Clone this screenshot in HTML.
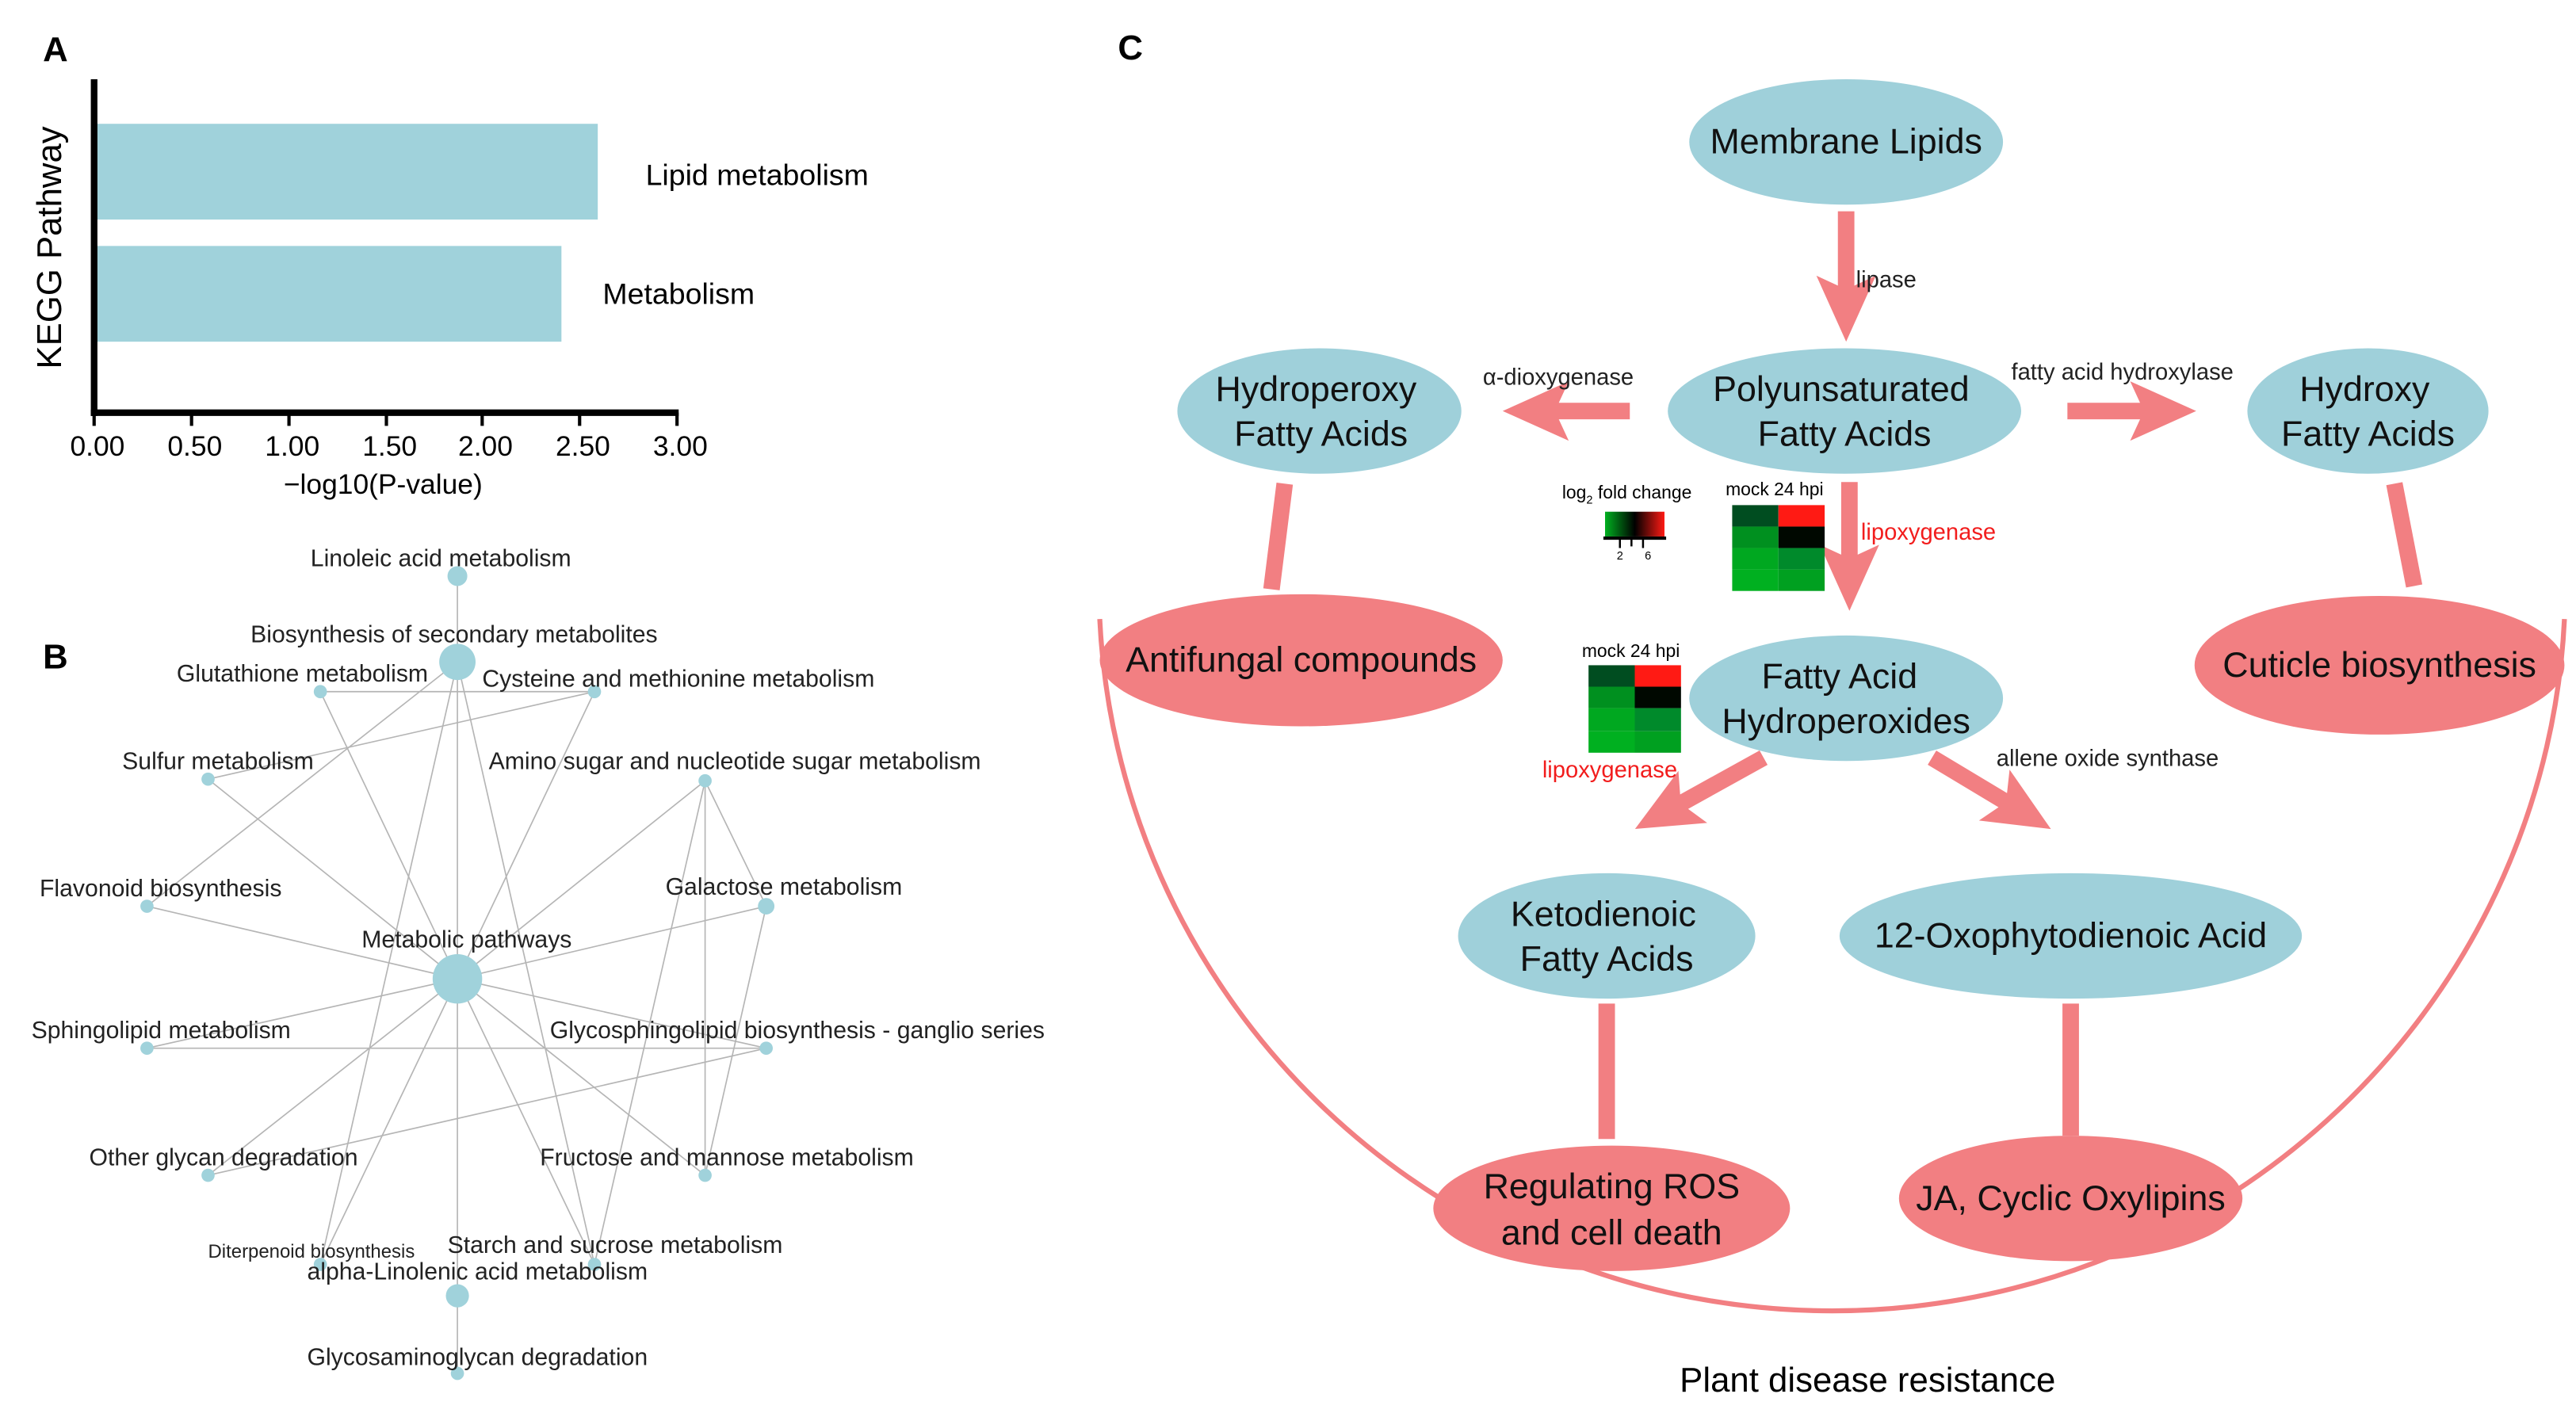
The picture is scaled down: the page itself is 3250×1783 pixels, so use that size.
<!DOCTYPE html>
<html><head><meta charset="utf-8"><style>html,body{margin:0;padding:0;background:#fff}svg{display:block}text{font-family:"Liberation Sans",Arial,sans-serif}</style></head>
<body>
<svg width="3250" height="1783" viewBox="0 0 1560 856" preserveAspectRatio="none" xmlns="http://www.w3.org/2000/svg">
<rect width="1560" height="856" fill="#fff"/>
<!-- Panel A -->
<text x="26" y="37" font-size="21" font-weight="bold">A</text>
<rect x="58" y="75" width="304" height="58" fill="#a0d2db"/>
<rect x="58" y="149" width="282" height="58" fill="#a0d2db"/>
<line x1="57" y1="48" x2="57" y2="252" stroke="#000" stroke-width="4"/>
<line x1="55" y1="250" x2="411" y2="250" stroke="#000" stroke-width="4"/>
<g stroke="#000" stroke-width="2">
<line x1="57" y1="250" x2="57" y2="258"/><line x1="116" y1="250" x2="116" y2="258"/><line x1="175" y1="250" x2="175" y2="258"/><line x1="234" y1="250" x2="234" y2="258"/><line x1="292" y1="250" x2="292" y2="258"/><line x1="351" y1="250" x2="351" y2="258"/><line x1="410" y1="250" x2="410" y2="258"/></g>
<g font-size="17" text-anchor="middle">
<text x="59" y="276">0.00</text><text x="118" y="276">0.50</text><text x="177" y="276">1.00</text><text x="236" y="276">1.50</text><text x="294" y="276">2.00</text><text x="353" y="276">2.50</text><text x="412" y="276">3.00</text>
<text x="232" y="299">−log10(P-value)</text></g>
<text x="391" y="112" font-size="18">Lipid metabolism</text>
<text x="365" y="184" font-size="18">Metabolism</text>
<text transform="translate(37,150) rotate(-90)" font-size="21" text-anchor="middle">KEGG Pathway</text>

<!-- Panel B -->
<text x="26" y="405" font-size="21" font-weight="bold">B</text>
<g stroke="#b5b5b5" stroke-width="0.8" fill="none">
<line x1="277" y1="349" x2="277" y2="832"/>
<line x1="194" y1="419" x2="360" y2="419"/>
<line x1="277" y1="401" x2="89" y2="549"/>
<line x1="277" y1="401" x2="194" y2="766"/>
<line x1="277" y1="401" x2="360" y2="766"/>
<line x1="360" y1="419" x2="126" y2="472"/>
<line x1="360" y1="419" x2="277" y2="593"/>
<line x1="194" y1="419" x2="277" y2="593"/>
<line x1="126" y1="472" x2="277" y2="593"/>
<line x1="427" y1="473" x2="277" y2="593"/>
<line x1="427" y1="473" x2="464" y2="549"/>
<line x1="427" y1="473" x2="427" y2="712"/>
<line x1="427" y1="473" x2="360" y2="766"/>
<line x1="89" y1="549" x2="277" y2="593"/>
<line x1="464" y1="549" x2="277" y2="593"/>
<line x1="89" y1="635" x2="277" y2="593"/>
<line x1="464" y1="635" x2="277" y2="593"/>
<line x1="126" y1="712" x2="277" y2="593"/>
<line x1="427" y1="712" x2="277" y2="593"/>
<line x1="194" y1="766" x2="277" y2="593"/>
<line x1="360" y1="766" x2="277" y2="593"/>
<line x1="89" y1="635" x2="464" y2="635"/>
<line x1="464" y1="635" x2="126" y2="712"/>
<line x1="464" y1="549" x2="427" y2="712"/>
</g>
<g fill="#a0d2db">
<circle cx="277" cy="349" r="6"/><circle cx="277" cy="401" r="11"/>
<circle cx="194" cy="419" r="4"/><circle cx="360" cy="419" r="4"/>
<circle cx="126" cy="472" r="4"/><circle cx="427" cy="473" r="4"/>
<circle cx="89" cy="549" r="4"/><circle cx="464" cy="549" r="5"/>
<circle cx="277" cy="593" r="15"/>
<circle cx="89" cy="635" r="4"/><circle cx="464" cy="635" r="4"/>
<circle cx="126" cy="712" r="4"/><circle cx="427" cy="712" r="4"/>
<circle cx="194" cy="766" r="4"/><circle cx="360" cy="766" r="4"/>
<circle cx="277" cy="785" r="7"/><circle cx="277" cy="832" r="4"/>
</g>
<g font-size="14.5" fill="#222">
<text x="267" y="343" text-anchor="middle">Linoleic acid metabolism</text>
<text x="275" y="389" text-anchor="middle">Biosynthesis of secondary metabolites</text>
<text x="107" y="413">Glutathione metabolism</text>
<text x="292" y="416">Cysteine and methionine metabolism</text>
<text x="74" y="466">Sulfur metabolism</text>
<text x="296" y="466">Amino sugar and nucleotide sugar metabolism</text>
<text x="24" y="543">Flavonoid biosynthesis</text>
<text x="403" y="542">Galactose metabolism</text>
<text x="219" y="574">Metabolic pathways</text>
<text x="19" y="629">Sphingolipid metabolism</text>
<text x="333" y="629">Glycosphingolipid biosynthesis - ganglio series</text>
<text x="54" y="706">Other glycan degradation</text>
<text x="327" y="706">Fructose and mannose metabolism</text>
<text x="126" y="762" font-size="11.5">Diterpenoid biosynthesis</text>
<text x="271" y="759">Starch and sucrose metabolism</text>
<text x="186" y="775">alpha-Linolenic acid metabolism</text>
<text x="186" y="827">Glycosaminoglycan degradation</text>
</g>

<!-- Panel C -->
<text x="677" y="36" font-size="21" font-weight="bold">C</text>
<path d="M666,375 A444,440 0 0 0 1553,375" fill="none" stroke="#f27f82" stroke-width="3"/>
<text x="1131" y="843" font-size="21" text-anchor="middle">Plant disease resistance</text>
<g stroke="#f27f82" stroke-width="10">
<line x1="778" y1="293" x2="770" y2="357"/>
<line x1="1450" y1="293" x2="1462" y2="355"/>
<line x1="973" y1="608" x2="973" y2="690"/>
<line x1="1254" y1="608" x2="1254" y2="688"/>
</g>
<g fill="#f27f82">
<g transform="translate(1118,128) rotate(90)"><path d="M0,-5 L45,-5 L39,-18 L79,0 L39,18 L45,5 L0,5Z"/></g>
<g transform="translate(1120,292) rotate(90)"><path d="M0,-5 L44,-5 L38,-18 L78,0 L38,18 L44,5 L0,5Z"/></g>
<g transform="translate(987,249) rotate(180)"><path d="M0,-5 L43,-5 L37,-18 L77,0 L37,18 L43,5 L0,5Z"/></g>
<g transform="translate(1252,249)"><path d="M0,-5 L44,-5 L38,-18 L78,0 L38,18 L44,5 L0,5Z"/></g>
<g transform="translate(1068,459) rotate(151)"><path d="M0,-5 L55,-5 L49,-18 L89,0 L49,18 L55,5 L0,5Z"/></g>
<g transform="translate(1170,459) rotate(31)"><path d="M0,-5 L50,-5 L44,-18 L84,0 L44,18 L50,5 L0,5Z"/></g>
</g>
<g fill="#9fd0da">
<ellipse cx="1118" cy="86" rx="95" ry="38"/>
<ellipse cx="1117" cy="249" rx="107" ry="38"/>
<ellipse cx="799" cy="249" rx="86" ry="38"/>
<ellipse cx="1434" cy="249" rx="73" ry="38"/>
<ellipse cx="1118" cy="423" rx="95" ry="38"/>
<ellipse cx="973" cy="567" rx="90" ry="38"/>
<ellipse cx="1254" cy="567" rx="140" ry="38"/>
</g>
<g fill="#f27f82">
<ellipse cx="788" cy="400" rx="122" ry="40"/>
<ellipse cx="1441" cy="403" rx="112" ry="42"/>
<ellipse cx="976" cy="732" rx="108" ry="38"/>
<ellipse cx="1254" cy="726" rx="104" ry="38"/>
</g>
<g font-size="21.5" text-anchor="middle" fill="#111">
<text x="1118" y="93">Membrane Lipids</text>
<text x="1115" y="243">Polyunsaturated</text><text x="1117" y="270">Fatty Acids</text>
<text x="797" y="243">Hydroperoxy</text><text x="800" y="270">Fatty Acids</text>
<text x="1432" y="243">Hydroxy</text><text x="1434" y="270">Fatty Acids</text>
<text x="1114" y="417">Fatty Acid</text><text x="1118" y="444">Hydroperoxides</text>
<text x="971" y="561">Ketodienoic</text><text x="973" y="588">Fatty Acids</text>
<text x="1254" y="574">12-Oxophytodienoic Acid</text>
<text x="788" y="407">Antifungal compounds</text>
<text x="1441" y="410">Cuticle biosynthesis</text>
<text x="976" y="726">Regulating ROS</text><text x="976" y="754">and cell death</text>
<text x="1254" y="733">JA, Cyclic Oxylipins</text>
</g>
<g font-size="14" fill="#222">
<text x="1124" y="174">lipase</text>
<text x="898" y="233">α-dioxygenase</text>
<text x="1218" y="230">fatty acid hydroxylase</text>
<text x="1209" y="464">allene oxide synthase</text>
<text x="1127" y="327" fill="#f21d1d">lipoxygenase</text>
<text x="934" y="471" fill="#f21d1d">lipoxygenase</text>
</g>
<!-- legend -->
<defs><linearGradient id="g1"><stop offset="0" stop-color="#00b020"/><stop offset="0.5" stop-color="#000"/><stop offset="1" stop-color="#ff1a14"/></linearGradient></defs>
<text x="946" y="302" font-size="11">log<tspan font-size="7" dy="3">2</tspan><tspan dy="-3"> fold change</tspan></text>
<rect x="972" y="310" width="36" height="15" fill="url(#g1)"/>
<line x1="971" y1="326" x2="1009" y2="326" stroke="#000" stroke-width="2"/>
<g stroke="#000" stroke-width="1.2"><line x1="981" y1="326" x2="981" y2="332"/><line x1="988" y1="326" x2="988" y2="331"/><line x1="995" y1="326" x2="995" y2="332"/></g>
<text x="981" y="339" font-size="7" text-anchor="middle">2</text><text x="998" y="339" font-size="7" text-anchor="middle">6</text>
<!-- heatmap 1 -->
<text x="1045" y="300" font-size="11">mock 24 hpi</text>
<rect x="1049" y="306" width="28" height="13" fill="#004d20"/><rect x="1077" y="306" width="28" height="13" fill="#ff1a14"/>
<rect x="1049" y="319" width="28" height="13" fill="#00901f"/><rect x="1077" y="319" width="28" height="13" fill="#000800"/>
<rect x="1049" y="332" width="28" height="13" fill="#00a820"/><rect x="1077" y="332" width="28" height="13" fill="#008a2b"/>
<rect x="1049" y="345" width="28" height="13" fill="#00b020"/><rect x="1077" y="345" width="28" height="13" fill="#00a020"/>
<!-- heatmap 2 -->
<text x="958" y="398" font-size="11">mock  24 hpi</text>
<rect x="962" y="403" width="28" height="13" fill="#004d20"/><rect x="990" y="403" width="28" height="13" fill="#ff1a14"/>
<rect x="962" y="416" width="28" height="13" fill="#00901f"/><rect x="990" y="416" width="28" height="13" fill="#000800"/>
<rect x="962" y="429" width="28" height="14" fill="#00a820"/><rect x="990" y="429" width="28" height="14" fill="#008a2b"/>
<rect x="962" y="443" width="28" height="13" fill="#00b020"/><rect x="990" y="443" width="28" height="13" fill="#00a020"/>
</svg>
</body></html>
